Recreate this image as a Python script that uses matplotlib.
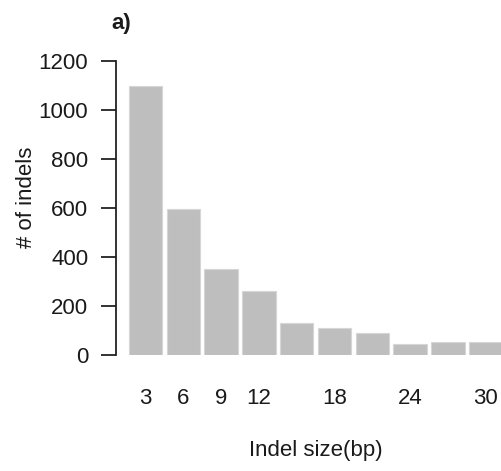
import matplotlib
matplotlib.use("Agg")
import matplotlib.pyplot as plt

plt.rcParams['font.family'] = ['Liberation Sans', 'DejaVu Sans']

# indel size (bp) and counts
indel_sizes = [3, 6, 9, 12, 15, 18, 21, 24, 27, 30]
indel_counts = [1100, 595, 350, 262, 132, 109, 88, 44, 53, 53]
# R dropped the overlapping labels, only these are shown
shown_labels = [3, 6, 9, 12, 18, 24, 30]
y_ticks = [0, 200, 400, 600, 800, 1000, 1200]

W, H = 502, 471
fig = plt.figure(figsize=(W / 100, H / 100), dpi=100)

# axes box in pixels (left, top, right, bottom)
left_px, top_px, right_px, bottom_px = 116, 61, 502, 355
ax = fig.add_axes([left_px / W, 1 - bottom_px / H,
                   (right_px - left_px) / W, (bottom_px - top_px) / H])

pos = list(range(len(indel_sizes)))
ax.bar(pos, indel_counts, width=0.88, color='#bebebe',
       edgecolor='#d6d6d6', linewidth=0.8)

ax.set_xlim(-0.78, 9.43)
ax.set_ylim(0, 1200)

ax.set_xticks([indel_sizes.index(s) for s in shown_labels])
ax.set_xticklabels([str(s) for s in shown_labels])
ax.set_yticks(y_ticks)
ax.set_yticklabels([str(v) for v in y_ticks])

for s in ['top', 'right', 'bottom']:
    ax.spines[s].set_visible(False)
ax.spines['left'].set_bounds(0, 1200)
ax.spines['left'].set_linewidth(1.3)
ax.spines['left'].set_color('#222222')

ax.tick_params(axis='x', length=0, pad=24, labelsize=16, colors='#1a1a1a')
ax.tick_params(axis='y', length=11, width=1.3, pad=9, labelsize=16,
               colors='#1a1a1a', color='#222222')

ax.set_ylabel('# of indels', fontsize=16, color='#1a1a1a')
ax.yaxis.set_label_coords(-0.205, 0.537)
ax.set_xlabel('Indel size(bp)', fontsize=16, color='#1a1a1a')
ax.xaxis.set_label_coords(0.518, -0.29)

fig.text(111 / W, 1 - 24 / H, 'a)', fontsize=16, fontweight='bold',
         ha='left', va='center', color='#1a1a1a')

fig.savefig('out.png', dpi=100)
